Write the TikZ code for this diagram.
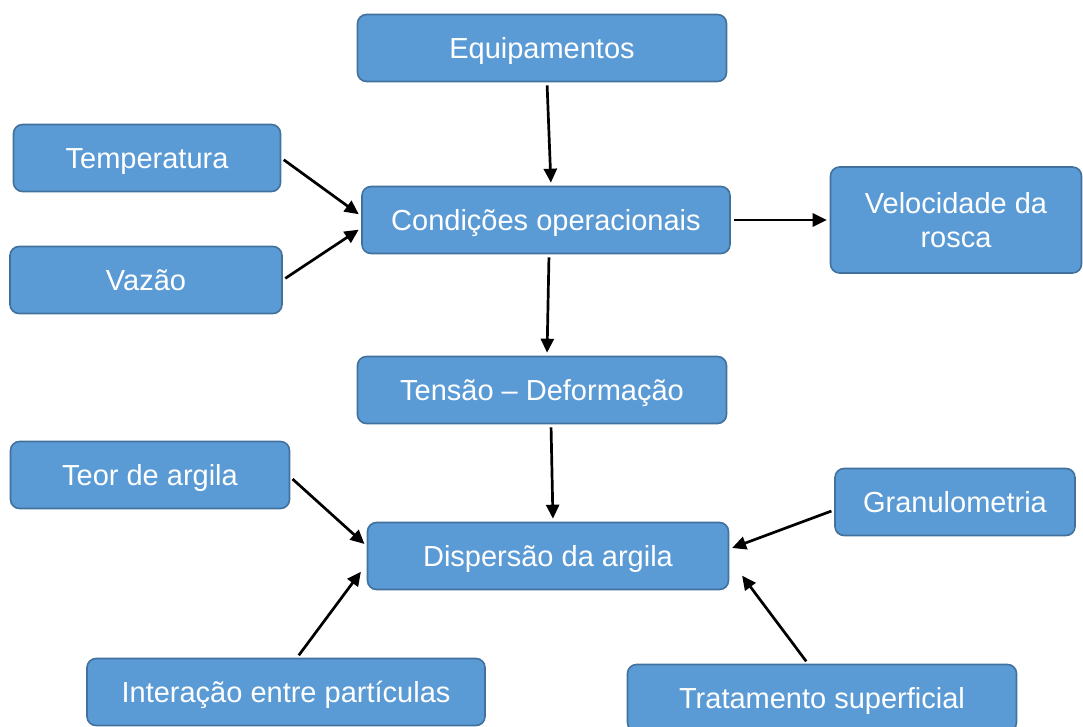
\documentclass[tikz,border=0pt]{standalone}
\usepackage{fontspec}
\setmainfont{Liberation Sans}
\usetikzlibrary{arrows.meta}
\definecolor{boxfill}{HTML}{5B9BD5}
\definecolor{boxline}{HTML}{41719C}

\begin{document}
\begin{tikzpicture}[x=1pt,y=-1pt,
   box/.style={draw=boxline,fill=boxfill,line width=1.6pt,rounded corners=9pt,
     text=white,font=\fontsize{29}{34}\selectfont,align=center,inner sep=0pt,
     text height=27pt,text depth=6pt,minimum height=67pt},
   arr/.style={-{Triangle[length=14pt,width=13pt]},line width=2.7pt,
     shorten >=3pt,shorten <=3pt}]
   \useasboundingbox (0,0) rectangle (1083,727);
   \clip (0,0) rectangle (1083,727);
   \node[box,minimum width=369pt] (equip) at (542,48) {Equipamentos};
   \node[box,minimum width=267pt] (temp) at (147,158) {Temperatura};
   \node[box,minimum width=368pt] (cond) at (546,220) {Condições operacionais};
   \node[box,minimum width=251pt,minimum height=106pt,text height=61pt] (veloc) at (956,220) {Velocidade da\\rosca};
   \node[box,minimum width=272pt] (vazao) at (146,280) {Vazão};
   \node[box,minimum width=369pt] (tensao) at (542,390) {Tensão – Deformação};
   \node[box,minimum width=279pt] (teor) at (150,475) {Teor de argila};
   \node[box,minimum width=240pt] (granul) at (955,502) {Granulometria};
   \node[box,minimum width=361pt] (disp) at (548,556) {Dispersão da argila};
   \node[box,minimum width=398pt] (inter) at (286,692) {Interação entre partículas};
   \node[box,minimum width=389pt] (trat) at (822,698) {Tratamento superficial};
   % setas
   \draw[arr] ([xshift=5pt]equip.south) -- ([xshift=5pt]cond.north);
   \draw[arr] (temp.east) -- ([yshift=4pt]cond.west);
   \draw[arr] (vazao.east) -- ([yshift=-8pt]cond.west);
   \draw[arr] (cond.east) -- (veloc.west);
   \draw[arr] ([xshift=3pt]cond.south) -- ([xshift=5pt]tensao.north);
   \draw[arr] ([xshift=9pt]tensao.south) -- ([xshift=5pt]disp.north);
   \draw[arr] ([yshift=-2pt]teor.east) -- ([yshift=10pt]disp.west);
   \draw[arr] ([yshift=-8pt]granul.west) -- ([yshift=7pt]disp.east);
   \draw[arr] ([xshift=11pt]inter.north) -- ([xshift=-4pt,yshift=21pt]disp.south west);
   \draw[arr] ([xshift=-14pt]trat.north) -- ([xshift=11pt,yshift=17pt]disp.south east);
\end{tikzpicture}
\end{document}
